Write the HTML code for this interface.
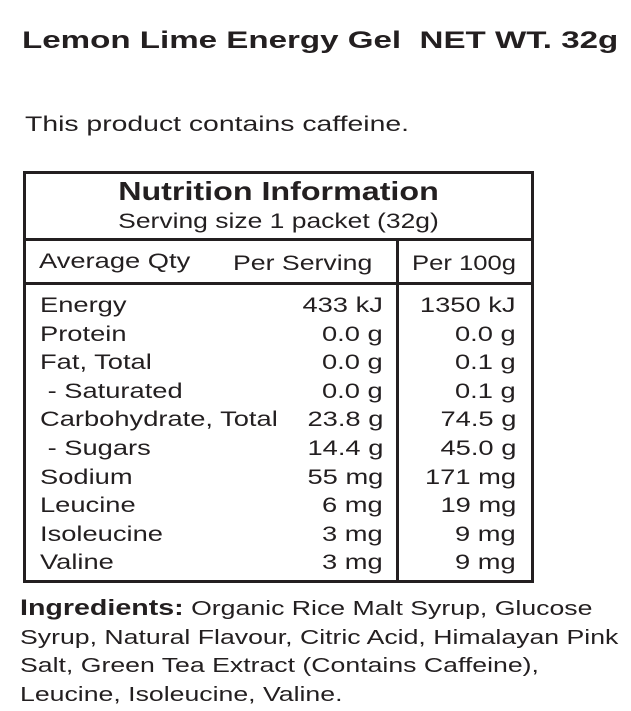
<!DOCTYPE html>
<html><head><meta charset="utf-8"><style>
body{margin:0;width:631px;height:711px;background:#fff;font-family:"Liberation Sans",sans-serif;color:#231f20;position:relative;overflow:hidden}
.a{position:absolute;white-space:nowrap;transform-origin:left top}
.box{position:absolute;left:23px;top:171px;width:505px;height:406px;border:3px solid #231f20}
.hl{position:absolute;left:23px;width:511px;height:3px;background:#231f20}
.vl{position:absolute;left:396px;top:240px;width:3px;height:340px;background:#231f20}
.r{font-size:21px;transform:scaleX(1.3)}
.n{position:absolute;font-size:21px;text-align:right;transform:scaleX(1.3);transform-origin:right top;white-space:nowrap}
</style></head><body>
<div class="a" style="left:22px;top:27px;font-size:24px;font-weight:bold;transform:scaleX(1.38)">Lemon Lime Energy Gel&nbsp; NET WT. 32g</div>
<div class="a" style="left:25px;top:113px;font-size:21px;transform:scaleX(1.35)">This product contains caffeine.</div>
<div class="box"></div>
<div class="hl" style="top:238px"></div>
<div class="hl" style="top:282px"></div>
<div class="vl"></div>
<div class="a" style="left:23px;width:511px;text-align:center;top:176px;font-size:26px;font-weight:bold;transform:scaleX(1.24);transform-origin:center top">Nutrition Information</div>
<div class="a" style="left:23px;width:511px;text-align:center;top:210px;font-size:21px;transform:scaleX(1.26);transform-origin:center top">Serving size 1 packet (32g)</div>
<div class="a r" style="left:39px;top:250px">Average Qty</div>
<div class="a r" style="left:233px;top:252px;transform:scaleX(1.27)">Per Serving</div>
<div class="a r" style="left:412px;top:252px;transform:scaleX(1.22)">Per 100g</div>
<div id="rows"></div>
<div class="a" style="left:20px;top:594px;font-size:20.5px;line-height:28.5px;transform:scaleX(1.3)"><b style="font-size:22px">Ingredients:</b> Organic Rice Malt Syrup, Glucose<br>Syrup, Natural Flavour, Citric Acid, Himalayan Pink<br>Salt, Green Tea Extract (Contains Caffeine),<br>Leucine, Isoleucine, Valine.</div>
<script>
const names=["Energy","Protein","Fat, Total"," - Saturated","Carbohydrate, Total"," - Sugars","Sodium","Leucine","Isoleucine","Valine"];
const perServing=["433 kJ","0.0 g","0.0 g","0.0 g","23.8 g","14.4 g","55 mg","6 mg","3 mg","3 mg"];
const per100=["1350 kJ","0.0 g","0.1 g","0.1 g","74.5 g","45.0 g","171 mg","19 mg","9 mg","9 mg"];
const c=document.getElementById('rows');
names.forEach((nm,i)=>{
  const y=294+i*28.6;
  const a=document.createElement('div');a.className='a r';a.style.left='40px';a.style.top=y+'px';a.textContent=nm.replace(' -','\u00a0-');
  
  
  const b=document.createElement('div');b.className='n';b.style.right=(631-383)+'px';b.style.top=y+'px';b.textContent=perServing[i];
  
  
  const d=document.createElement('div');d.className='n';d.style.right=(631-516)+'px';d.style.top=y+'px';d.textContent=per100[i];
  
  
  c.append(a,b,d);
});
</script>
</body></html>
